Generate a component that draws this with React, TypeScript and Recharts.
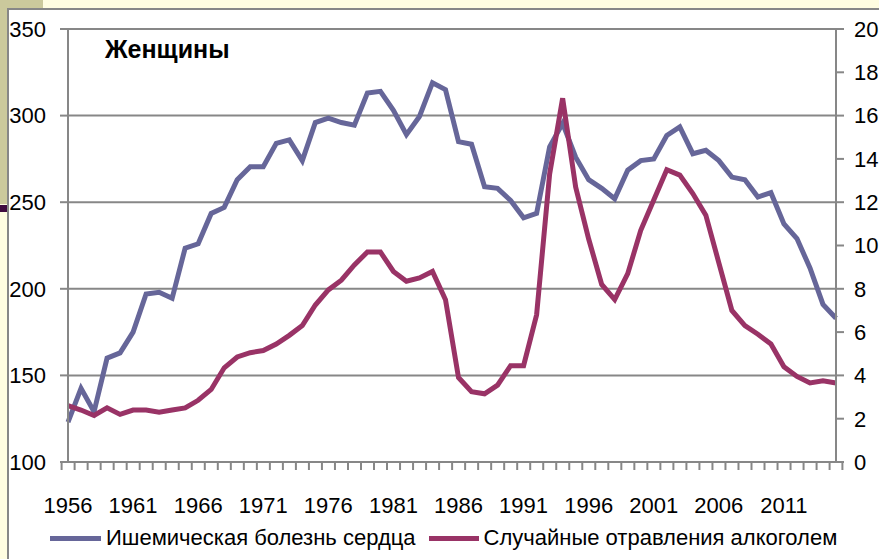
import { LineChart, Line, XAxis, YAxis, CartesianGrid, Legend } from "recharts";

const years = [
  "1956", "1957", "1958", "1959", "1960", "1961", "1962", "1963", "1964", "1965",
  "1966", "1967", "1968", "1969", "1970", "1971", "1972", "1973", "1974", "1975",
  "1976", "1977", "1978", "1979", "1980", "1981", "1982", "1983", "1984", "1985",
  "1986", "1987", "1988", "1989", "1990", "1991", "1992", "1993", "1994", "1995",
  "1996", "1997", "1998", "1999", "2000", "2001", "2002", "2003", "2004", "2005",
  "2006", "2007", "2008", "2009", "2010", "2011", "2012", "2013", "2014", "2015",
];

// Ишемическая болезнь сердца (left axis)
const heart = [
  123, 142.5, 129, 160, 163, 175, 197, 198, 194.5, 223.5,
  226, 243.5, 247, 263, 270.5, 270.5, 284, 286, 274, 296,
  298.5, 296, 294.5, 313, 314, 303, 289, 299.5, 319, 315,
  285, 283.5, 259, 258, 251, 241, 243.5, 282, 295.5, 276,
  263, 258, 252, 268.5, 274, 275, 288.5, 293.5, 278, 280,
  274, 264.5, 263, 253, 255.5, 237.5, 229, 212, 191, 183,
];

// Случайные отравления алкоголем (right axis)
const alcohol = [
  2.6, 2.4, 2.15, 2.5, 2.2, 2.4, 2.4, 2.3, 2.4, 2.5,
  2.85, 3.35, 4.35, 4.85, 5.05, 5.15, 5.45, 5.85, 6.3, 7.25,
  7.95, 8.4, 9.1, 9.7, 9.7, 8.8, 8.35, 8.5, 8.8, 7.5,
  3.9, 3.25, 3.15, 3.55, 4.45, 4.45, 6.8, 13.3, 16.8, 12.7,
  10.3, 8.2, 7.5, 8.7, 10.7, 12.1, 13.5, 13.25, 12.4, 11.4,
  9.2, 7.0, 6.3, 5.9, 5.45, 4.4, 3.95, 3.65, 3.75, 3.65,
];

const leftTicks = [100, 150, 200, 250, 300, 350];
const rightTicks = [0, 2, 4, 6, 8, 10, 12, 14, 16, 18, 20];

const data = years.map((y, i) => ({ year: y, heart: heart[i], alcohol: alcohol[i] }));

const W = 879;
const H = 559;
const LEFT_W = 68;
const RIGHT_W = 43;
const HALF_BAND = (W - LEFT_W - RIGHT_W) / years.length / 2;
const GRAY = "#878787";
const BLUE = "#666699";
const RED = "#993366";
const FONT = "'Liberation Sans', Arial, sans-serif";

const YearTick = (props: any) => {
  const { x, y, index } = props;
  return (
    <g>
      <line x1={x - HALF_BAND} x2={x - HALF_BAND} y1={y} y2={y + 8} stroke={GRAY} strokeWidth={2} />
      {index === years.length - 1 && (
        <line x1={x + HALF_BAND} x2={x + HALF_BAND} y1={y} y2={y + 8} stroke={GRAY} strokeWidth={2} />
      )}
      {index % 5 === 0 && (
        <text x={x} y={y + 51} textAnchor="middle" fontSize={22} fontFamily={FONT} fill="#000">
          {props.payload.value}
        </text>
      )}
    </g>
  );
};

const LegendBox = () => (
  <div
    style={{
      height: 42,
      display: "flex",
      alignItems: "center",
      paddingLeft: 50,
      fontFamily: FONT,
      fontSize: 22,
      color: "#000",
    }}
  >
    <span style={{ width: 51, height: 5, background: BLUE, marginRight: 5 }} />
    <span style={{ marginRight: 13 }}>Ишемическая болезнь сердца</span>
    <span style={{ width: 50, height: 5, background: RED, marginRight: 5 }} />
    <span>Случайные отравления алкоголем</span>
  </div>
);

export default function App() {
  return (
    <div style={{ position: "absolute", left: 0, top: 0, width: W, height: H, background: "#fffde1", overflow: "hidden" }}>
      {/* slide decoration */}
      <div style={{ position: "absolute", left: 0, top: 0, width: 43, height: 8, background: "#cbc99c" }} />
      <div style={{ position: "absolute", left: 0, top: 0, width: 7, height: 204, background: "#cbc99c" }} />
      <div style={{ position: "absolute", left: 0, top: 205, width: 8, height: 7, background: "#3f0b3f" }} />
      <div
        style={{
          position: "absolute",
          left: 7,
          top: 8,
          width: W - 7,
          height: H - 8,
          background: "#fff",
          borderLeft: `2px solid ${GRAY}`,
          borderTop: `2px solid ${GRAY}`,
          boxSizing: "border-box",
        }}
      />
      <div style={{ position: "absolute", left: 0, top: 0 }}>
        <LineChart width={W} height={H} data={data} margin={{ top: 29, right: 0, bottom: 0, left: 0 }}>
          <CartesianGrid yAxisId="left" vertical={false} stroke={GRAY} strokeWidth={2} />
          <XAxis
            dataKey="year"
            interval={0}
            height={55}
            tickSize={0}
            tickMargin={0}
            tickLine={false}
            axisLine={{ stroke: GRAY, strokeWidth: 2 }}
            tick={<YearTick />}
          />
          <YAxis
            yAxisId="left"
            domain={[100, 350]}
            ticks={leftTicks}
            width={LEFT_W}
            tickSize={8}
            tickMargin={14}
            axisLine={{ stroke: GRAY, strokeWidth: 2 }}
            tickLine={{ stroke: GRAY, strokeWidth: 2 }}
            tick={{ fill: "#000", fontSize: 22, fontFamily: FONT }}
          />
          <YAxis
            yAxisId="right"
            orientation="right"
            domain={[0, 20]}
            ticks={rightTicks}
            width={RIGHT_W}
            tickSize={8}
            tickMargin={10}
            axisLine={{ stroke: GRAY, strokeWidth: 2 }}
            tickLine={{ stroke: GRAY, strokeWidth: 2 }}
            tick={{ fill: "#000", fontSize: 22, fontFamily: FONT, textAnchor: "start" }}
          />
          <Legend verticalAlign="bottom" align="left" height={42} content={<LegendBox />} />
          <Line
            yAxisId="left"
            type="linear"
            dataKey="heart"
            name="Ишемическая болезнь сердца"
            stroke={BLUE}
            strokeWidth={5}
            dot={false}
            isAnimationActive={false}
          />
          <Line
            yAxisId="right"
            type="linear"
            dataKey="alcohol"
            name="Случайные отравления алкоголем"
            stroke={RED}
            strokeWidth={5}
            dot={false}
            isAnimationActive={false}
          />
        </LineChart>
      </div>
      <div
        style={{
          position: "absolute",
          left: 105,
          top: 35,
          fontFamily: FONT,
          fontWeight: "bold",
          fontSize: 25,
          color: "#000",
        }}
      >
        Женщины
      </div>
    </div>
  );
}
